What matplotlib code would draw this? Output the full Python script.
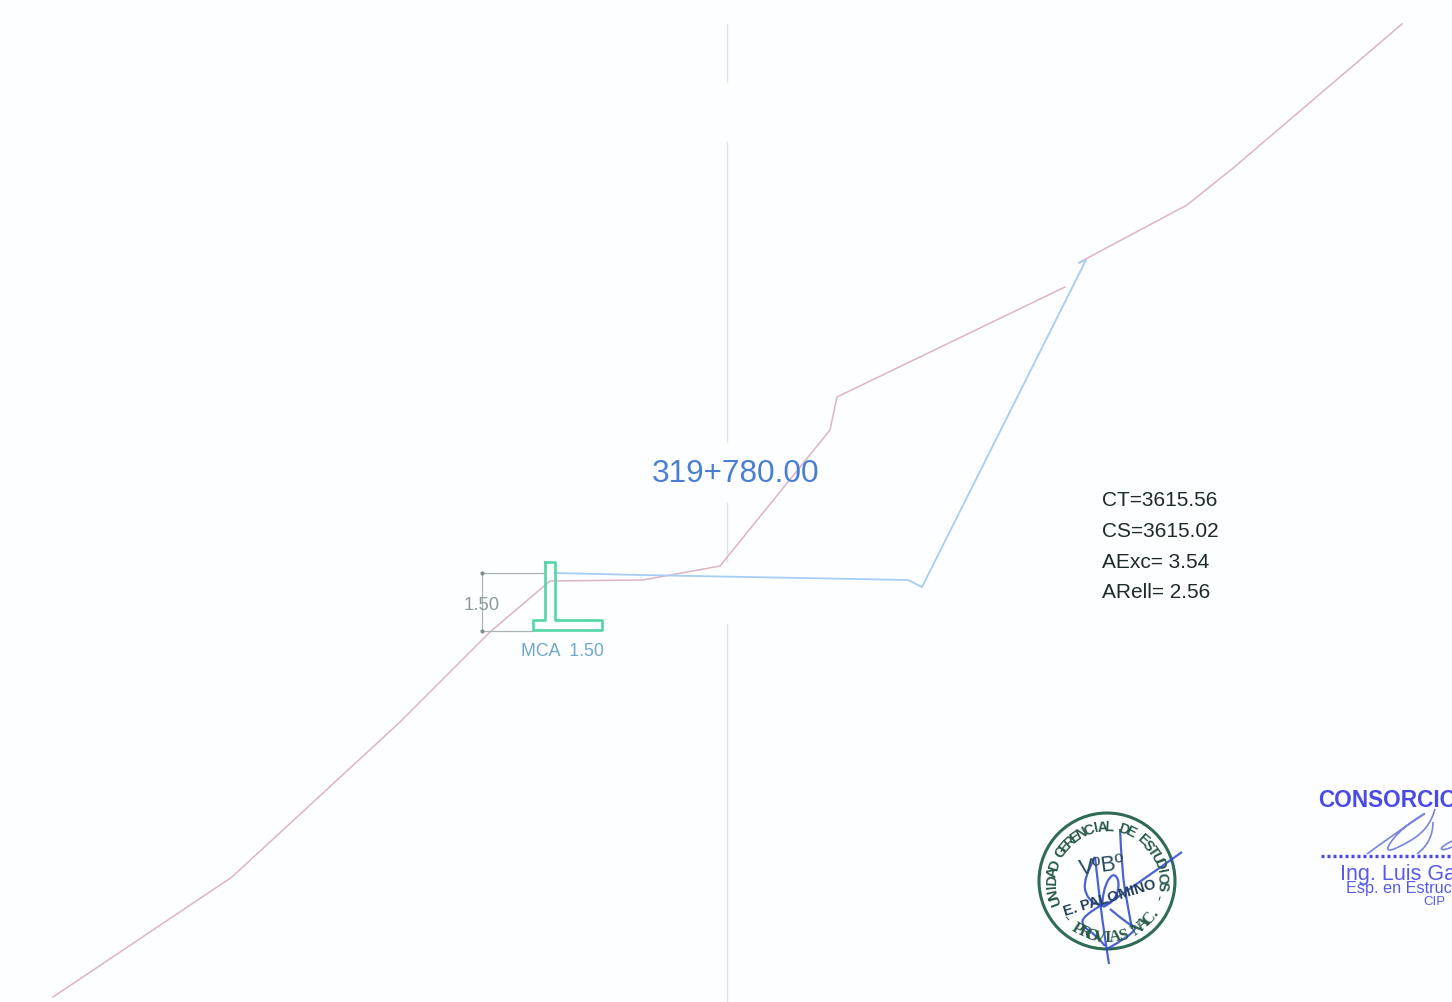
import numpy as np
import matplotlib
matplotlib.use("Agg")
import matplotlib.pyplot as plt
from matplotlib.patches import Circle, PathPatch
from matplotlib.path import Path

# everything in image pixels
terrain_low_x = [53, 232, 400, 490, 550, 643, 720, 830, 837, 1065]
terrain_low_y = [998, 878, 723, 633, 582, 581, 567, 431, 398, 288]
terrain_up_x = [1080, 1187, 1232, 1402]
terrain_up_y = [263, 206, 170, 25]
road_x = [555, 640, 908, 922, 1086, 1079]
road_y = [574, 576, 581, 588, 261, 264]
wall_x = [545, 555, 555, 602, 602, 533, 533, 545, 545]
wall_y = [563, 563, 621, 621, 631, 631, 621, 621, 563]
dim_x = [545, 482, 482, 533]
dim_y = [574, 574, 632, 632]
axis_x = 727
axis_segments = [(25, 83), (143, 443), (504, 563), (625, 1003)]

station = "319+780.00"
quantities = ["CT=3615.56", "CS=3615.02", "AExc= 3.54", "ARell= 2.56"]
quantity_y = [499, 530, 561, 591]

seal_top = "UNIDAD GERENCIAL DE ESTUDIOS"
seal_bottom = "- PROVIAS NAC. -"

signature_1 = [
    [(1120, 830), (1122, 873), (1127, 903), (1132, 930)],
    [(1095, 858), (1100, 903), (1105, 940), (1109, 965)],
    [(1095, 858), (1083, 880), (1087, 900), (1102, 908), (1120, 897), (1182, 853)],
    [(1102, 908), (1103, 890), (1113, 873), (1120, 883), (1115, 903), (1103, 908)],
    [(1100, 907), (1083, 917), (1082, 927), (1097, 937), (1105, 947)],
    [(1110, 910), (1130, 927), (1137, 927), (1130, 937), (1107, 950)],
]
signature_2 = [
    [(1367, 855), (1397, 833), (1435, 808), (1403, 828), (1385, 850), (1393, 852), (1430, 830), (1435, 810)],
    [(1433, 823), (1433, 843), (1417, 855)],
    [(1452, 842), (1440, 848), (1443, 852), (1452, 848)],
]

plt.rcParams["font.family"] = ["Liberation Sans", "DejaVu Sans"]


def draw_stroke(ax, pts, color, lw, alpha=1.0):
    # smooth pen stroke: each point is a control point, midpoints are on the curve
    pts = np.array(pts, dtype=float)
    verts = [pts[0]]
    codes = [Path.MOVETO]
    for i in range(1, len(pts) - 1):
        end = pts[i + 1] if i == len(pts) - 2 else (pts[i] + pts[i + 1]) / 2
        verts += [pts[i], end]
        codes += [Path.CURVE3, Path.CURVE3]
    if len(pts) == 2:
        verts.append(pts[1])
        codes.append(Path.LINETO)
    ax.add_patch(PathPatch(Path(verts, codes), fill=False, ec=color, lw=lw, alpha=alpha))


fig = plt.figure(figsize=(14.52, 10.03), dpi=100, facecolor="#fdfeff")
ax = fig.add_axes([0, 0, 1, 1])
ax.set_xlim(0, 1452)
ax.set_ylim(1003, 0)
ax.axis("off")

for y0, y1 in axis_segments:
    ax.plot([axis_x, axis_x], [y0, y1], color="#e2e3f2", lw=1.0)

ax.plot(terrain_low_x, terrain_low_y, color="#dcb4c4", lw=1.1)
ax.plot(terrain_up_x, terrain_up_y, color="#dcb4c4", lw=1.1)
ax.plot(road_x, road_y, color="#a5cdf5", lw=1.3)
ax.plot(dim_x, dim_y, color="#a9b4b8", lw=0.9)
ax.plot(dim_x[1:3], dim_y[1:3], ls="none", marker="o", ms=2, color="#7f8c90")
ax.plot(wall_x, wall_y, color="#52d6a4", lw=1.9)

ax.text(735.5, 473.5, station, color="#4a7ed2", fontsize=22.7, ha="center", va="center")
ax.text(482, 605, "1.50", color="#8f9a9e", fontsize=13.3, ha="center", va="center")
ax.text(521, 652, "MCA  1.50", color="#6fa8c8", fontsize=12.8, ha="left", va="center")

for label, y in zip(quantities, quantity_y):
    ax.text(1102, y + 1.5, label, color="#1c2a2a", fontsize=15, ha="left", va="center")

# seal
cx, cy = 1107, 882
ax.add_patch(Circle((cx, cy), 68, fill=False, ec="#2f6b55", lw=2.2))
angles = np.linspace(200, -4, len(seal_top))
for ch, a in zip(seal_top, angles):
    rad = np.deg2rad(a)
    ax.text(cx + 55 * np.cos(rad), cy - 55 * np.sin(rad), ch, rotation=a - 90,
            rotation_mode="anchor", ha="center", va="center", fontsize=10.5,
            fontweight="bold", color="#2a5a4a")
angles = np.linspace(222, 343, len(seal_bottom))
for ch, a in zip(seal_bottom, angles):
    rad = np.deg2rad(a)
    ax.text(cx + 56 * np.cos(rad), cy - 56 * np.sin(rad), ch, rotation=a + 90,
            rotation_mode="anchor", ha="center", va="center", fontsize=12,
            fontweight="bold", color="#2a5a4a", family="Liberation Serif")
ax.text(1102, 866, "VºBº", fontsize=16, color="#2a4a5a", ha="center", va="center", rotation=8)
ax.text(1110, 898, "E. PALOMINO", fontsize=10.5, fontweight="bold", color="#23405a",
        ha="center", va="center", rotation=17)

for pts in signature_1:
    draw_stroke(ax, pts, "#2c48c8", 1.6, 0.85)

# consortium block, runs off the right edge
ax.text(1318, 801, "CONSORCIO", color="#4a4ae6", fontsize=16.3, fontweight="bold",
        ha="left", va="center", clip_on=True)
for pts in signature_2:
    draw_stroke(ax, pts, "#7a84e0", 1.2)
ax.plot([1321, 1452], [857, 857], color="#4a4ae6", lw=2.4, ls=(0, (0.9, 0.9)))
ax.text(1340, 875, "Ing. Luis Ga", color="#5a5ae8", fontsize=15.5, ha="left", va="center")
ax.text(1346, 889, "Esp. en Estruc", color="#5a5ae8", fontsize=11.7, ha="left", va="center")
ax.text(1423, 902, "CIP", color="#5a5ae8", fontsize=9.5, ha="left", va="center")

fig.savefig("out.png", dpi=100, facecolor=fig.get_facecolor())
